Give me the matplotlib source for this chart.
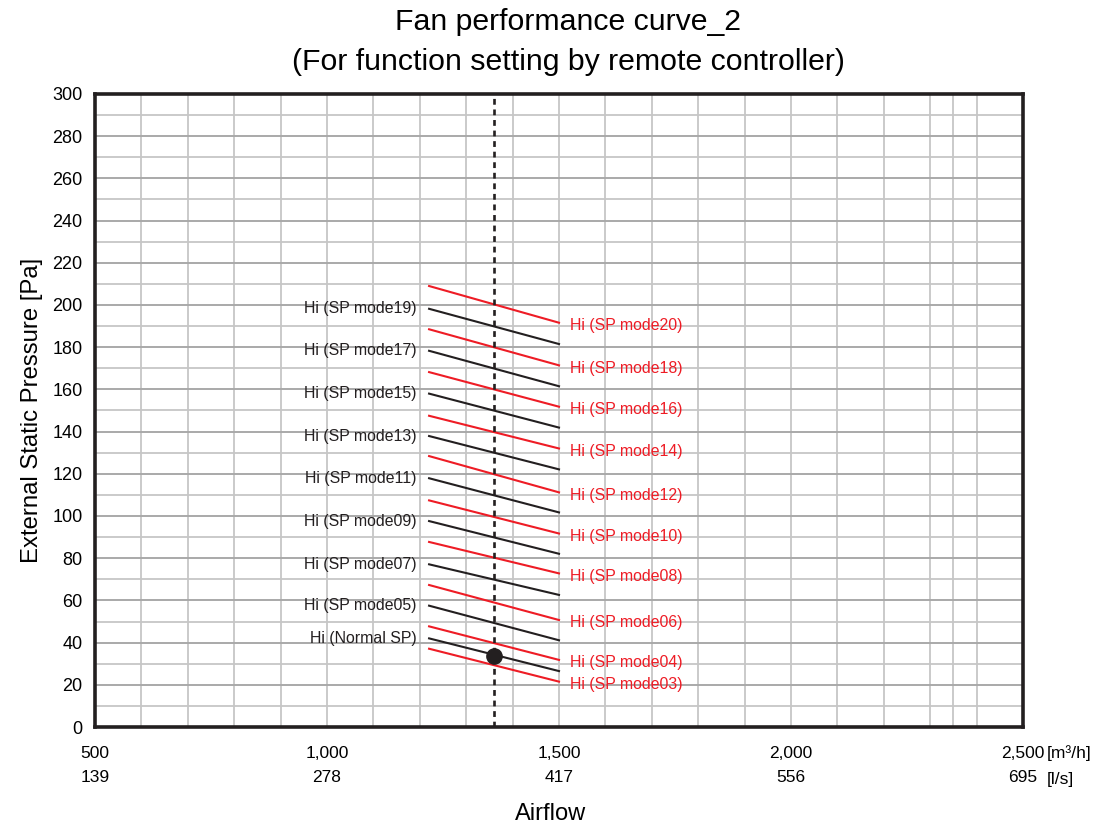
import matplotlib
matplotlib.use("Agg")
import matplotlib.pyplot as plt
from matplotlib.ticker import FixedLocator, NullFormatter

plt.rcParams['font.family'] = ['Liberation Sans', 'DejaVu Sans']

# ============================================
# DATOS
# ============================================
m3h_ticks = [500, 1000, 1500, 2000, 2500]
ls_ticks = [139, 278, 417, 556, 695]
x_grid = [600, 700, 800, 900, 1000, 1100, 1200, 1300, 1400, 1500, 1600, 1700,
          1800, 1900, 2000, 2100, 2200, 2300, 2350, 2400]

curve_x = [1220, 1500]          # inicio / fin de cada curva (m3/h)
op_airflow = 1360               # linea punteada
op_pressure = 33.6              # punto de operacion

labels = ["Hi (SP mode20)", "Hi (SP mode19)", "Hi (SP mode18)", "Hi (SP mode17)",
          "Hi (SP mode16)", "Hi (SP mode15)", "Hi (SP mode14)", "Hi (SP mode13)",
          "Hi (SP mode12)", "Hi (SP mode11)", "Hi (SP mode10)", "Hi (SP mode09)",
          "Hi (SP mode08)", "Hi (SP mode07)", "Hi (SP mode06)", "Hi (SP mode05)",
          "Hi (SP mode04)", "Hi (Normal SP)", "Hi (SP mode03)"]
p_start = [209.0, 198.2, 188.5, 178.3, 168.2, 158.0, 147.5, 137.9, 128.4, 117.9,
           107.4, 97.6, 87.7, 77.1, 67.3, 57.5, 47.7, 42.0, 37.1]
p_end = [191.6, 181.5, 171.4, 161.5, 151.8, 141.9, 132.0, 122.1, 111.2, 101.7,
         91.7, 82.1, 72.8, 62.6, 50.7, 41.1, 31.8, 26.5, 21.5]
is_red = [True, False, True, False, True, False, True, False, True, False,
          True, False, True, False, True, False, True, False, True]

RED = '#ee1c25'
BLACK = '#231f20'

# ============================================
# FIGURA
# ============================================
fig = plt.figure(figsize=(10.99, 8.26), dpi=100)
ax = fig.add_axes([95 / 1099, 1 - 727 / 826, (1023 - 95) / 1099, (727 - 94) / 826])

ax.set_xlim(500, 2500)
ax.set_ylim(0, 300)

# rejilla
ax.xaxis.set_major_locator(FixedLocator(m3h_ticks))
ax.xaxis.set_minor_locator(FixedLocator(x_grid))
ax.yaxis.set_major_locator(FixedLocator(list(range(0, 301, 20))))
ax.yaxis.set_minor_locator(FixedLocator(list(range(10, 300, 20))))
ax.xaxis.set_minor_formatter(NullFormatter())
ax.grid(True, axis='x', which='both', color='#c6c6c6', linewidth=1.3)
ax.grid(True, axis='y', which='major', color='#a9a9a9', linewidth=1.4)
ax.grid(True, axis='y', which='minor', color='#c6c6c6', linewidth=1.3)
ax.set_axisbelow(True)

ax.set_xticklabels([f"{a:,}\n{b}" for a, b in zip(m3h_ticks, ls_ticks)],
                   fontsize=12.5, linespacing=1.72)
ax.tick_params(axis='both', which='both', length=0)
ax.tick_params(axis='x', pad=14)
ax.tick_params(axis='y', pad=9, labelsize=13)

for s in ax.spines.values():
    s.set_linewidth(2.6)
    s.set_color(BLACK)
    s.set_zorder(5)

# curvas
for lab, y0, y1, red in zip(labels, p_start, p_end, is_red):
    col = RED if red else BLACK
    ax.plot(curve_x, [y0, y1], color=col, linewidth=1.5, zorder=3)
    if red:
        ax.annotate(lab, (curve_x[1], y1), xytext=(8, -2), textcoords='offset points',
                    ha='left', va='center', color=RED, fontsize=11.4)
    else:
        ax.annotate(lab, (curve_x[0], y0), xytext=(-9, 0), textcoords='offset points',
                    ha='right', va='center', color=BLACK, fontsize=11.4)

ax.axvline(op_airflow, color=BLACK, linewidth=1.9, linestyle=(0, (2.2, 1.8)), zorder=4)
ax.plot([op_airflow], [op_pressure], 'o', color=BLACK, markersize=11, zorder=6)

# unidades
ax.annotate("[m³/h]", (2500, 0), xytext=(17, -19), textcoords='offset points',
            ha='left', va='center', fontsize=12.5, annotation_clip=False)
ax.annotate("[l/s]", (2500, 0), xytext=(17, -37.5), textcoords='offset points',
            ha='left', va='center', fontsize=12.5, annotation_clip=False)

ax.set_ylabel("External Static Pressure [Pa]", fontsize=17.2, labelpad=7)
fig.text(551 / 1099, 1 - 814 / 826, "Airflow", ha='center', va='center', fontsize=17)
fig.text(568 / 1099, 1 - 42 / 826,
         "Fan performance curve_2\n(For function setting by remote controller)",
         ha='center', va='center', fontsize=21.8, linespacing=1.5)

plt.savefig("out.png", dpi=100)
